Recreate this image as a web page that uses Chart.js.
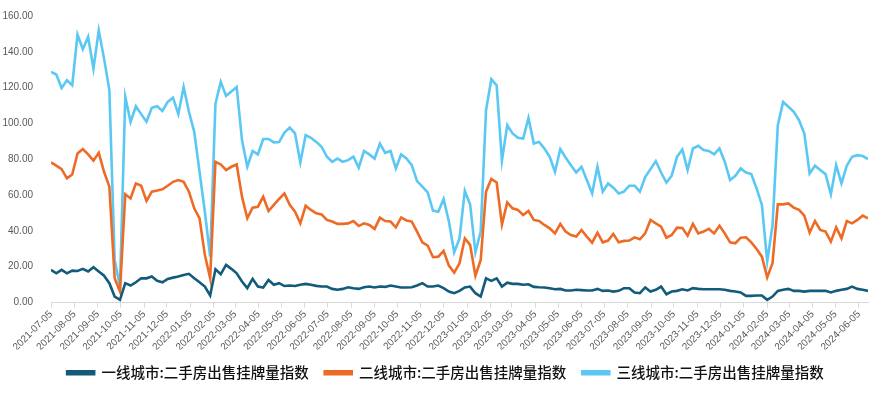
<!DOCTYPE html>
<html>
<head>
<meta charset="utf-8">
<script src="https://cdn.jsdelivr.net/npm/chart.js@4.4.1/dist/chart.umd.min.js"></script>
<style>
html,body{margin:0;padding:0;background:#fff;}
#wrap{width:891px;height:394px;position:relative;}
</style>
</head>
<body>
<div id="wrap"><canvas id="c" width="891" height="394"></canvas></div>
<script>
// Weekly series starting 2021-07-05
const startDate = '2021-07-05';
const seriesNames = ['一线城市:二手房出售挂牌量指数', '二线城市:二手房出售挂牌量指数', '三线城市:二手房出售挂牌量指数'];

const tier1 = [18.2,16.3,18.2,16.3,17.8,17.6,18.8,17.3,19.7,17.3,15.0,10.8,3.3,1.5,10.8,9.5,11.3,13.5,13.5,14.5,
12.1,11.3,13.2,13.9,14.5,15.4,16.0,13.5,11.3,8.9,3.9,18.6,15.8,21.0,18.8,16.3,11.7,8.0,13.2,8.9,
8.4,12.6,9.9,10.8,9.2,9.5,9.2,9.9,10.4,9.9,9.3,8.9,8.9,7.6,7.1,7.6,8.5,8.0,7.6,8.5,
8.9,8.4,8.9,8.7,9.5,8.9,8.4,8.4,8.5,9.5,10.8,8.9,8.9,9.5,8.0,6.1,5.2,6.5,8.4,8.9,
5.2,3.3,13.5,12.1,13.5,8.9,11.1,10.4,10.4,9.9,10.2,8.7,8.5,8.4,8.0,7.4,7.6,6.7,6.7,7.1,
6.9,6.7,6.7,7.6,6.5,6.7,6.1,6.5,8.0,8.0,5.6,5.2,8.4,6.1,7.1,8.9,4.6,6.1,6.5,7.4,
6.7,8.0,7.6,7.4,7.4,7.4,7.4,7.1,6.5,6.1,5.6,3.7,3.7,3.9,3.9,1.5,3.3,6.5,7.1,7.6,
6.5,6.5,6.1,6.5,6.5,6.5,6.5,5.6,6.5,7.1,7.6,8.9,7.6,7.1,6.5];

const tier2 = [78.2,76.4,74.5,69.3,71.5,83.2,85.7,82.7,79.2,83.6,73.0,64.7,13.5,6.1,60.4,58.1,66.5,65.2,56.7,61.9,
62.5,63.2,65.2,67.4,68.4,67.4,61.9,52.6,47.0,26.6,13.5,78.6,77.1,74.0,75.8,77.1,59.1,47.0,53.0,53.5,
59.1,51.1,54.5,57.8,60.9,54.5,50.7,44.2,54.0,51.7,49.8,49.2,46.1,45.2,43.9,43.9,44.2,45.5,42.7,44.2,
43.3,41.1,47.4,45.5,45.2,42.0,47.5,45.8,45.2,39.6,33.6,31.8,25.3,25.6,28.8,20.6,16.7,21.9,35.8,32.2,
15.0,23.8,61.9,69.0,67.0,43.6,55.9,52.6,51.7,48.9,51.1,46.1,45.5,43.3,41.4,38.6,43.9,39.6,37.7,36.8,
40.5,36.8,33.4,39.0,33.6,34.6,38.3,33.6,34.4,34.6,36.4,35.3,38.6,46.1,44.2,42.4,36.2,37.7,41.8,41.6,
37.3,43.9,38.6,39.6,41.1,38.6,42.9,38.6,33.6,33.1,36.2,36.4,33.6,29.9,25.6,14.0,21.9,54.8,54.8,55.3,
53.0,51.7,48.5,39.0,45.5,40.5,39.6,34.0,42.0,35.8,45.5,44.2,46.1,48.5,47.0];

const tier3 = [128.8,127.3,119.8,124.1,121.3,149.6,141.4,148.3,130.6,152.0,136.2,118.6,23.8,8.9,114.8,100.9,109.6,105.2,100.9,108.7,
109.6,107.0,112.0,114.4,105.2,120.4,106.5,95.3,73.0,50.7,25.6,111.1,123.2,115.4,117.9,120.3,90.7,75.8,84.6,82.7,
91.3,91.3,89.4,89.6,94.9,97.7,94.4,78.2,93.5,92.0,89.7,87.0,81.4,78.6,80.4,78.6,79.5,81.4,75.3,84.6,
82.7,80.4,88.8,83.6,84.6,74.9,82.7,80.4,76.7,67.8,64.7,61.5,51.3,50.7,57.8,45.2,28.0,35.8,62.3,54.8,
28.0,39.6,107.4,124.7,121.3,79.2,99.0,94.4,92.0,91.6,103.1,88.8,89.7,86.0,81.4,73.0,85.7,81.0,76.7,72.6,
75.8,68.4,60.9,75.8,61.9,66.5,64.1,60.9,61.9,65.2,65.2,61.9,70.0,74.5,79.0,72.6,67.0,70.8,81.4,85.5,
74.0,86.0,87.5,85.1,84.6,82.7,86.0,78.6,68.4,70.8,74.9,72.6,71.7,63.7,54.5,22.9,43.0,99.0,112.0,109.3,
106.5,101.8,94.4,72.1,76.4,74.0,71.7,60.4,76.7,66.5,76.4,81.4,82.3,81.8,80.1];

const tickLabels = ['2021-07-05','2021-08-05','2021-09-05','2021-10-05','2021-11-05','2021-12-05',
'2022-01-05','2022-02-05','2022-03-05','2022-04-05','2022-05-05','2022-06-05','2022-07-05','2022-08-05',
'2022-09-05','2022-10-05','2022-11-05','2022-12-05','2023-01-05','2023-02-05','2023-03-05','2023-04-05',
'2023-05-05','2023-06-05','2023-07-05','2023-08-05','2023-09-05','2023-10-05','2023-11-05','2023-12-05',
'2024-01-05','2024-02-05','2024-03-05','2024-04-05','2024-05-05','2024-06-05'];

const colors = ['#125B7B', '#EE6B26', '#5BC8F3'];

function dayNum(s){ const p = s.split('-').map(Number); return Date.UTC(p[0], p[1]-1, p[2]) / 86400000; }
const d0 = dayNum(startDate);
const tickWeeks = tickLabels.map(s => (dayNum(s) - d0) / 7);

function toPts(arr){ return arr.map((v, i) => ({x: i, y: v})); }

const datasets = [tier1, tier2, tier3].map((arr, i) => ({
  label: seriesNames[i],
  data: toPts(arr),
  borderColor: colors[i],
  backgroundColor: colors[i],
  borderWidth: 2.6,
  pointRadius: 0,
  tension: 0,
  fill: false
}));

new Chart(document.getElementById('c'), {
  type: 'line',
  data: { datasets },
  options: {
    responsive: false,
    animation: false,
    layout: { padding: { left: 0, right: 0, top: 3, bottom: 4 } },
    plugins: {
      tooltip: { enabled: false },
      legend: {
        position: 'bottom',
        labels: {
          boxWidth: 27,
          boxHeight: 3,
          padding: 16,
          color: '#111111',
          font: { family: '"Noto Sans CJK SC", "Noto Sans", sans-serif', size: 14.5, weight: '500' }
        }
      }
    },
    scales: {
      x: {
        type: 'linear',
        min: 0,
        max: tier1.length - 1,
        afterBuildTicks: (scale) => { scale.ticks = tickWeeks.map(v => ({ value: v })); },
        afterFit: (scale) => { scale.height = 47; },
        ticks: {
          autoSkip: false,
          minRotation: 45,
          maxRotation: 45,
          color: '#595959',
          font: { family: '"Liberation Sans", Arial, sans-serif', size: 10 },
          padding: 1,
          callback: (v, i) => tickLabels[i]
        },
        grid: { display: true, drawOnChartArea: false, drawTicks: true, tickLength: 5, color: '#D9D9D9' },
        border: { display: true, color: '#D9D9D9', width: 1 }
      },
      y: {
        min: 0,
        max: 160,
        afterFit: (scale) => { scale.width = 51; },
        ticks: {
          stepSize: 20,
          color: '#595959',
          padding: 10,
          font: { family: '"Liberation Sans", Arial, sans-serif', size: 10 },
          callback: (v) => v.toFixed(2)
        },
        grid: { display: false },
        border: { display: false }
      },
      yPad: {
        position: 'right',
        min: 0,
        max: 160,
        afterFit: (scale) => { scale.width = 23; },
        ticks: { display: false },
        grid: { display: false },
        border: { display: false }
      }
    }
  }
});
</script>
</body>
</html>
